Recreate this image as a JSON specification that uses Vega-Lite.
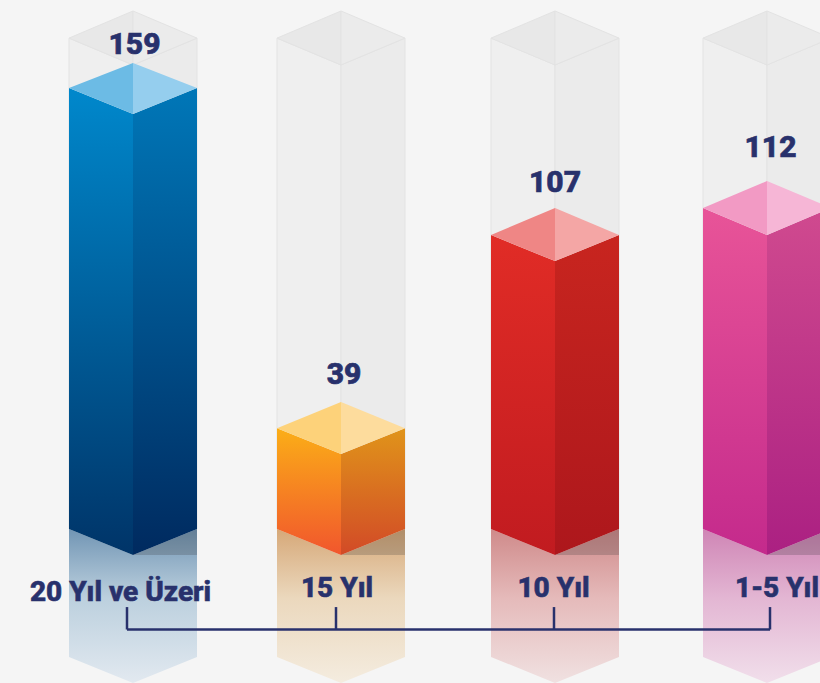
{"$schema":"https://vega.github.io/schema/vega-lite/v6.json","width":820,"height":683,"autosize":{"type":"none"},"padding":0,"background":"#f5f5f5","view":{"stroke":null},
"datasets":{"faces":[
{"s":"20|GL","part":"GL","x":69,"hi":186.6,"lo":9.4},{"s":"20|GL","part":"GL","x":133,"hi":176.9,"lo":0},
{"s":"20|GR","part":"GR","x":133,"hi":176.9,"lo":0},{"s":"20|GR","part":"GR","x":197,"hi":186.6,"lo":9.4},
{"s":"20|GTL","part":"GTL","x":69,"hi":186.6,"lo":186.6},{"s":"20|GTL","part":"GTL","x":133,"hi":196.4,"lo":176.9},
{"s":"20|GTR","part":"GTR","x":133,"hi":196.4,"lo":176.9},{"s":"20|GTR","part":"GTR","x":197,"hi":186.6,"lo":186.6},
{"s":"15|GL","part":"GL","x":277,"hi":186.6,"lo":9.4},{"s":"15|GL","part":"GL","x":341,"hi":176.9,"lo":0},
{"s":"15|GR","part":"GR","x":341,"hi":176.9,"lo":0},{"s":"15|GR","part":"GR","x":405,"hi":186.6,"lo":9.4},
{"s":"15|GTL","part":"GTL","x":277,"hi":186.6,"lo":186.6},{"s":"15|GTL","part":"GTL","x":341,"hi":196.4,"lo":176.9},
{"s":"15|GTR","part":"GTR","x":341,"hi":196.4,"lo":176.9},{"s":"15|GTR","part":"GTR","x":405,"hi":186.6,"lo":186.6},
{"s":"10|GL","part":"GL","x":491,"hi":186.6,"lo":9.4},{"s":"10|GL","part":"GL","x":555,"hi":176.9,"lo":0},
{"s":"10|GR","part":"GR","x":555,"hi":176.9,"lo":0},{"s":"10|GR","part":"GR","x":619,"hi":186.6,"lo":9.4},
{"s":"10|GTL","part":"GTL","x":491,"hi":186.6,"lo":186.6},{"s":"10|GTL","part":"GTL","x":555,"hi":196.4,"lo":176.9},
{"s":"10|GTR","part":"GTR","x":555,"hi":196.4,"lo":176.9},{"s":"10|GTR","part":"GTR","x":619,"hi":186.6,"lo":186.6},
{"s":"1-5|GL","part":"GL","x":703,"hi":186.6,"lo":9.4},{"s":"1-5|GL","part":"GL","x":767,"hi":176.9,"lo":0},
{"s":"1-5|GR","part":"GR","x":767,"hi":176.9,"lo":0},{"s":"1-5|GR","part":"GR","x":831,"hi":186.6,"lo":9.4},
{"s":"1-5|GTL","part":"GTL","x":703,"hi":186.6,"lo":186.6},{"s":"1-5|GTL","part":"GTL","x":767,"hi":196.4,"lo":176.9},
{"s":"1-5|GTR","part":"GTR","x":767,"hi":196.4,"lo":176.9},{"s":"1-5|GTR","part":"GTR","x":831,"hi":186.6,"lo":186.6},

{"s":"20|M","part":"M","x":69,"hi":9.4,"lo":-36.8},{"s":"20|M","part":"M","x":133,"hi":0,"lo":-46.2},{"s":"20|M","part":"M","x":197,"hi":9.4,"lo":-36.8},
{"s":"15|M","part":"M","x":277,"hi":9.4,"lo":-36.8},{"s":"15|M","part":"M","x":341,"hi":0,"lo":-46.2},{"s":"15|M","part":"M","x":405,"hi":9.4,"lo":-36.8},
{"s":"10|M","part":"M","x":491,"hi":9.4,"lo":-36.8},{"s":"10|M","part":"M","x":555,"hi":0,"lo":-46.2},{"s":"10|M","part":"M","x":619,"hi":9.4,"lo":-36.8},
{"s":"1-5|M","part":"M","x":703,"hi":9.4,"lo":-36.8},{"s":"1-5|M","part":"M","x":767,"hi":0,"lo":-46.2},{"s":"1-5|M","part":"M","x":831,"hi":9.4,"lo":-36.8},
{"s":"20|S","part":"S","x":133,"hi":0,"lo":0},{"s":"20|S","part":"S","x":197,"hi":9.4,"lo":0},
{"s":"15|S","part":"S","x":341,"hi":0,"lo":0},{"s":"15|S","part":"S","x":405,"hi":9.4,"lo":0},
{"s":"10|S","part":"S","x":555,"hi":0,"lo":0},{"s":"10|S","part":"S","x":619,"hi":9.4,"lo":0},
{"s":"1-5|S","part":"S","x":767,"hi":0,"lo":0},{"s":"1-5|S","part":"S","x":831,"hi":9.4,"lo":0},

{"s":"20|L","part":"L","x":69,"hi":168.6,"lo":9.4},{"s":"20|L","part":"L","x":133,"hi":159.2,"lo":0},
{"s":"20|R","part":"R","x":133,"hi":159.2,"lo":0},{"s":"20|R","part":"R","x":197,"hi":168.6,"lo":9.4},
{"s":"20|TL","part":"TL","x":69,"hi":168.6,"lo":168.6},{"s":"20|TL","part":"TL","x":133,"hi":177.6,"lo":159.2},
{"s":"20|TR","part":"TR","x":133,"hi":177.6,"lo":159.2},{"s":"20|TR","part":"TR","x":197,"hi":168.6,"lo":168.6},
{"s":"15|L","part":"L","x":277,"hi":45.8,"lo":9.4},{"s":"15|L","part":"L","x":341,"hi":36.5,"lo":0},
{"s":"15|R","part":"R","x":341,"hi":36.5,"lo":0},{"s":"15|R","part":"R","x":405,"hi":45.8,"lo":9.4},
{"s":"15|TL","part":"TL","x":277,"hi":45.8,"lo":45.8},{"s":"15|TL","part":"TL","x":341,"hi":55.2,"lo":36.5},
{"s":"15|TR","part":"TR","x":341,"hi":55.2,"lo":36.5},{"s":"15|TR","part":"TR","x":405,"hi":45.8,"lo":45.8},
{"s":"10|L","part":"L","x":491,"hi":115.5,"lo":9.4},{"s":"10|L","part":"L","x":555,"hi":106.1,"lo":0},
{"s":"10|R","part":"R","x":555,"hi":106.1,"lo":0},{"s":"10|R","part":"R","x":619,"hi":115.5,"lo":9.4},
{"s":"10|TL","part":"TL","x":491,"hi":115.5,"lo":115.5},{"s":"10|TL","part":"TL","x":555,"hi":125.3,"lo":106.1},
{"s":"10|TR","part":"TR","x":555,"hi":125.3,"lo":106.1},{"s":"10|TR","part":"TR","x":619,"hi":115.5,"lo":115.5},
{"s":"1-5|L","part":"L","x":703,"hi":125.3,"lo":9.4},{"s":"1-5|L","part":"L","x":767,"hi":115.5,"lo":0},
{"s":"1-5|R","part":"R","x":767,"hi":115.5,"lo":0},{"s":"1-5|R","part":"R","x":831,"hi":125.3,"lo":9.4},
{"s":"1-5|TL","part":"TL","x":703,"hi":125.3,"lo":125.3},{"s":"1-5|TL","part":"TL","x":767,"hi":135,"lo":115.5},
{"s":"1-5|TR","part":"TR","x":767,"hi":135,"lo":115.5},{"s":"1-5|TR","part":"TR","x":831,"hi":125.3,"lo":125.3}
],
"labels":[
{"t":"159","x":134.5,"y":184.2,"k":"v"},{"t":"39","x":344,"y":65.1,"k":"v"},{"t":"107","x":555,"y":134.4,"k":"v"},{"t":"112","x":770.5,"y":147.1,"k":"v"},
{"t":"20 Yıl ve Üzeri","x":120.5,"y":-13.6,"k":"c"},{"t":"15 Yıl","x":337,"y":-12.2,"k":"c"},{"t":"10 Yıl","x":553.5,"y":-12.2,"k":"c"},{"t":"1-5 Yıl","x":777,"y":-12.2,"k":"c"}
],
"bracket":[{"x":127,"x2":770,"hi":-26.9,"lo":-26.9},{"x":127,"x2":127,"hi":-18.8,"lo":-26.9},{"x":336,"x2":336,"hi":-18.8,"lo":-26.9},{"x":554,"x2":554,"hi":-18.8,"lo":-26.9},{"x":770,"x2":770,"hi":-18.8,"lo":-26.9}]
},
"data":{"name":"faces"},
"encoding":{
"x":{"field":"x","type":"quantitative","scale":{"domain":[0,820],"nice":false,"zero":false},"axis":null},
"y":{"field":"hi","type":"quantitative","scale":{"domain":[-46.21,200.36],"nice":false,"zero":false},"axis":null},
"y2":{"field":"lo"},
"detail":{"field":"s"}
},
"resolve":{"scale":{"fill":"independent"}},
"layer":[
{"transform":[{"filter":{"field":"part","oneOf":["GL","GR","GTL","GTR"]}}],"mark":{"type":"area","orient":"vertical","clip":true,"stroke":"#e3e3e3","strokeWidth":1},"encoding":{"fill":{"field":"part","type":"nominal","legend":null,"scale":{"domain":["GL","GR","GTL","GTR"],"range":["#efefef","#ebebeb","#e8e8e8","#ebebeb"]}}}},
{"transform":[{"filter":{"field":"s","equal":"20|M"}}],"mark":{"type":"area","orient":"vertical","clip":true,"fill":{"gradient":"linear","x1":0,"y1":0,"x2":0,"y2":1,"stops":[{"offset":0,"color":"#7195b4"},{"offset":0.45,"color":"#bcd0de"},{"offset":1,"color":"#e2e9f0"}]}}},
{"transform":[{"filter":{"field":"s","equal":"15|M"}}],"mark":{"type":"area","orient":"vertical","clip":true,"fill":{"gradient":"linear","x1":0,"y1":0,"x2":0,"y2":1,"stops":[{"offset":0,"color":"#d6a878"},{"offset":0.45,"color":"#ebd8bd"},{"offset":1,"color":"#f4ecdf"}]}}},
{"transform":[{"filter":{"field":"s","equal":"10|M"}}],"mark":{"type":"area","orient":"vertical","clip":true,"fill":{"gradient":"linear","x1":0,"y1":0,"x2":0,"y2":1,"stops":[{"offset":0,"color":"#cf8a8a"},{"offset":0.45,"color":"#e5baba"},{"offset":1,"color":"#f0e1e1"}]}}},
{"transform":[{"filter":{"field":"s","equal":"1-5|M"}}],"mark":{"type":"area","orient":"vertical","clip":true,"fill":{"gradient":"linear","x1":0,"y1":0,"x2":0,"y2":1,"stops":[{"offset":0,"color":"#cf85b5"},{"offset":0.45,"color":"#e3b6d3"},{"offset":1,"color":"#f1dfeb"}]}}},
{"transform":[{"filter":{"field":"part","equal":"S"}}],"mark":{"type":"area","orient":"vertical","clip":true,"fill":"#333333","opacity":0.22}},
{"transform":[{"filter":{"field":"s","equal":"20|L"}}],"mark":{"type":"area","orient":"vertical","fill":{"gradient":"linear","x1":0,"y1":0,"x2":0,"y2":1,"stops":[{"offset":0,"color":"#0088cc"},{"offset":1,"color":"#003468"}]}}},
{"transform":[{"filter":{"field":"s","equal":"20|R"}}],"mark":{"type":"area","orient":"vertical","fill":{"gradient":"linear","x1":0,"y1":0,"x2":0,"y2":1,"stops":[{"offset":0,"color":"#0077b8"},{"offset":1,"color":"#002a5f"}]}}},
{"transform":[{"filter":{"field":"s","equal":"15|L"}}],"mark":{"type":"area","orient":"vertical","fill":{"gradient":"linear","x1":0,"y1":0,"x2":0,"y2":1,"stops":[{"offset":0,"color":"#fbae17"},{"offset":1,"color":"#f1562d"}]}}},
{"transform":[{"filter":{"field":"s","equal":"15|R"}}],"mark":{"type":"area","orient":"vertical","fill":{"gradient":"linear","x1":0,"y1":0,"x2":0,"y2":1,"stops":[{"offset":0,"color":"#e0941a"},{"offset":1,"color":"#d24a27"}]}}},
{"transform":[{"filter":{"field":"s","equal":"10|L"}}],"mark":{"type":"area","orient":"vertical","fill":{"gradient":"linear","x1":0,"y1":0,"x2":0,"y2":1,"stops":[{"offset":0,"color":"#e12c26"},{"offset":1,"color":"#c11b20"}]}}},
{"transform":[{"filter":{"field":"s","equal":"10|R"}}],"mark":{"type":"area","orient":"vertical","fill":{"gradient":"linear","x1":0,"y1":0,"x2":0,"y2":1,"stops":[{"offset":0,"color":"#c8251f"},{"offset":1,"color":"#ad171c"}]}}},
{"transform":[{"filter":{"field":"s","equal":"1-5|L"}}],"mark":{"type":"area","orient":"vertical","fill":{"gradient":"linear","x1":0,"y1":0,"x2":0,"y2":1,"stops":[{"offset":0,"color":"#e85498"},{"offset":1,"color":"#c42a8c"}]}}},
{"transform":[{"filter":{"field":"s","equal":"1-5|R"}}],"mark":{"type":"area","orient":"vertical","clip":true,"fill":{"gradient":"linear","x1":0,"y1":0,"x2":0,"y2":1,"stops":[{"offset":0,"color":"#d04a8f"},{"offset":1,"color":"#ab2082"}]}}},
{"transform":[{"filter":{"field":"part","oneOf":["TL","TR"]}}],"mark":{"type":"area","orient":"vertical","clip":true},"encoding":{"fill":{"field":"s","type":"nominal","legend":null,"scale":{"domain":["20|TL","20|TR","15|TL","15|TR","10|TL","10|TR","1-5|TL","1-5|TR"],"range":["#6cbbe5","#95ceee","#fdd27a","#fddc9d","#ef8685","#f4a6a5","#f29ac4","#f6b6d6"]}}}},
{"data":{"name":"bracket"},"mark":{"type":"rule","color":"#28316c","strokeWidth":2.5},"encoding":{"x":{"field":"x","type":"quantitative"},"x2":{"field":"x2"},"y":{"field":"hi","type":"quantitative"},"y2":{"field":"lo"},"detail":null}},
{"data":{"name":"labels"},"transform":[{"filter":{"field":"k","equal":"v"}}],"mark":{"type":"text","font":"Roboto","fontWeight":800,"fontSize":30,"color":"#28316c","stroke":"#28316c","strokeWidth":0.7,"baseline":"middle","align":"center"},"encoding":{"y":{"field":"y","type":"quantitative"},"y2":null,"detail":null,"text":{"field":"t"}}},
{"data":{"name":"labels"},"transform":[{"filter":{"field":"k","equal":"c"}}],"mark":{"type":"text","font":"Roboto","fontWeight":800,"fontSize":28,"color":"#28316c","stroke":"#28316c","strokeWidth":0.6,"baseline":"middle","align":"center"},"encoding":{"y":{"field":"y","type":"quantitative"},"y2":null,"detail":null,"text":{"field":"t"}}}
]}
